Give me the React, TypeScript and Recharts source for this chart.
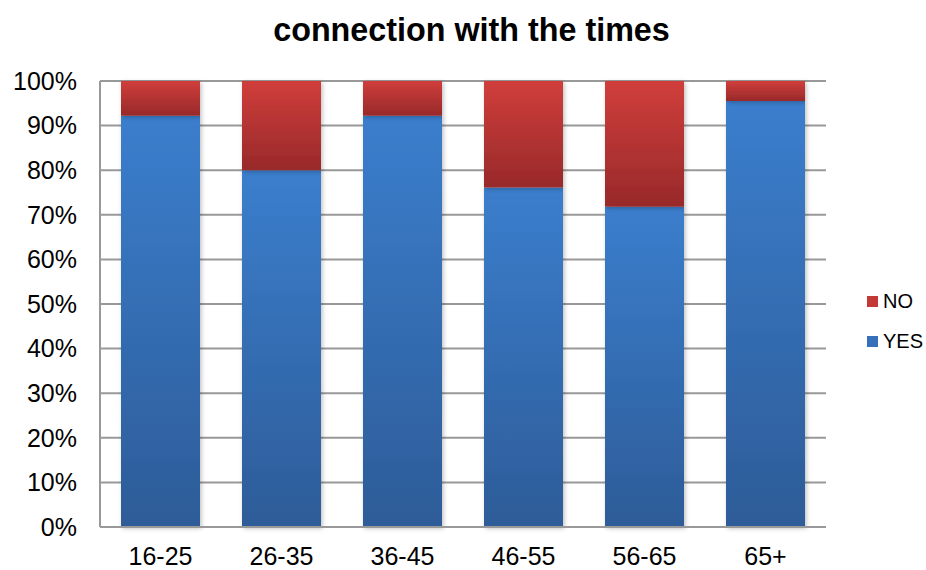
import React from 'react';
import { BarChart, Bar, XAxis, YAxis, CartesianGrid, Legend } from 'recharts';

const categories = ['16-25', '26-35', '36-45', '46-55', '56-65', '65+'];
const yesValues = [92.2, 80.0, 92.2, 76.1, 71.8, 95.5];
const noValues = [7.8, 20.0, 7.8, 23.9, 28.2, 4.5];
const yTicks = [0, 10, 20, 30, 40, 50, 60, 70, 80, 90, 100];

const data = categories.map((c, i) => ({ cat: c, YES: yesValues[i], NO: noValues[i] }));

const FONT = '"Liberation Sans", Arial, sans-serif';

const LegendContent = () => (
  <div style={{ fontFamily: FONT, fontSize: 20, color: '#000' }}>
    {[
      { name: 'NO', color: '#c23936' },
      { name: 'YES', color: '#3670bb' },
    ].map((it, i) => (
      <div key={it.name} style={{ display: 'flex', alignItems: 'center', height: 22, marginBottom: i === 0 ? 18 : 0 }}>
        <span style={{ display: 'inline-block', width: 11, height: 11, background: it.color, marginRight: 5 }} />
        <span>{it.name}</span>
      </div>
    ))}
  </div>
);

export default function App() {
  return (
    <div style={{ position: 'absolute', left: 0, top: 0, width: 926, height: 570, background: '#fff', fontFamily: FONT }}>
      <div
        style={{
          position: 'absolute',
          left: 0,
          top: 10,
          width: 943,
          textAlign: 'center',
          fontSize: 32.3,
          fontWeight: 'bold',
          color: '#000',
          lineHeight: '40px',
        }}
      >
        connection with the times
      </div>
      <BarChart width={926} height={570} data={data} margin={{ top: 81, right: 100, left: 0, bottom: 0 }} barSize={79}>
        <defs>
          <linearGradient id="gYes" x1="0" y1="0" x2="0" y2="1">
            <stop offset="0%" stopColor="#3b7ecd" />
            <stop offset="100%" stopColor="#2d5c98" />
          </linearGradient>
          <linearGradient id="gNo" x1="0" y1="0" x2="0" y2="1">
            <stop offset="0%" stopColor="#d03e3b" />
            <stop offset="100%" stopColor="#98292a" />
          </linearGradient>
          <filter id="shadow" x="-10%" y="-10%" width="130%" height="130%">
            <feDropShadow dx="1.5" dy="1.5" stdDeviation="2" floodColor="#000" floodOpacity="0.25" />
          </filter>
        </defs>
        <CartesianGrid vertical={false} stroke="#999" strokeWidth={2} />
        <XAxis
          dataKey="cat"
          height={43}
          axisLine={{ stroke: '#999', strokeWidth: 2 }}
          tickLine={false}
          tickSize={0}
          tickMargin={20}
          tick={{ fill: '#000', fontSize: 25, fontFamily: FONT }}
        />
        <YAxis
          width={100}
          domain={[0, 100]}
          ticks={yTicks}
          interval={0}
          tickFormatter={(v: number) => `${v}%`}
          axisLine={{ stroke: '#999', strokeWidth: 2 }}
          tickLine={false}
          tickSize={0}
          tickMargin={23}
          tick={{ fill: '#000', fontSize: 25, fontFamily: FONT }}
        />
        <Legend
          layout="horizontal"
          align="center"
          verticalAlign="middle"
          content={<LegendContent />}
          wrapperStyle={{ position: 'absolute', left: 867, top: 290, width: 60, height: 70 }}
        />
        <Bar dataKey="YES" stackId="a" fill="url(#gYes)" isAnimationActive={false} filter="url(#shadow)" />
        <Bar dataKey="NO" stackId="a" fill="url(#gNo)" isAnimationActive={false} filter="url(#shadow)" />
      </BarChart>
    </div>
  );
}
